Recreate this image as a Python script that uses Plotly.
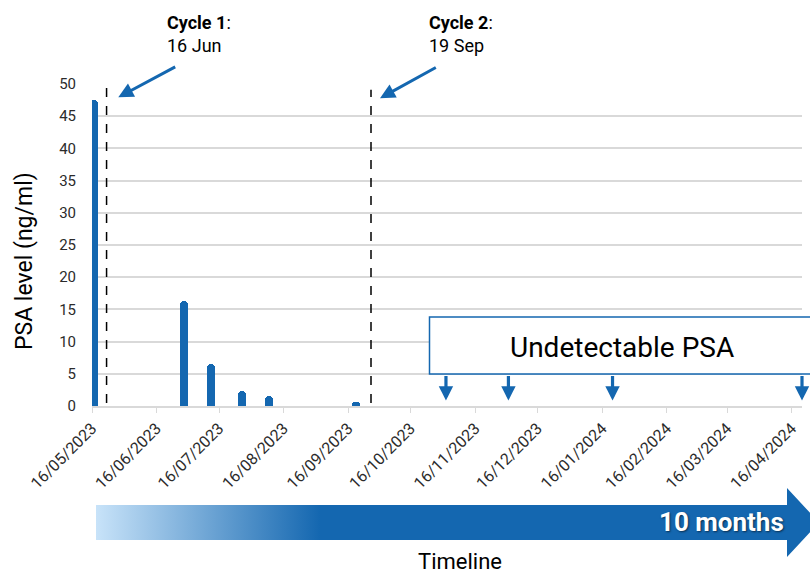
import plotly.graph_objects as go

W, H = 810, 575

# ---------------- data ----------------
psa_dates = ["2023-05-17", "2023-06-29", "2023-07-12", "2023-07-27", "2023-08-09", "2023-09-20"]
psa_values = [47.5, 16.3, 6.5, 2.3, 1.5, 0.6]

undetectable_dates = ["2023-11-02", "2023-12-02", "2024-01-21", "2024-04-21"]

cycle_line_dates = ["2023-05-23", "2023-09-27"]
cycle_names = ["Cycle 1", "Cycle 2"]
cycle_days = ["16 Jun", "19 Sep"]

month_ticks = ["2023-05-16", "2023-06-16", "2023-07-16", "2023-08-16", "2023-09-16",
               "2023-10-16", "2023-11-16", "2023-12-16", "2024-01-16", "2024-02-16",
               "2024-03-16", "2024-04-16"]
month_tick_labels = ["16/05/2023", "16/06/2023", "16/07/2023", "16/08/2023", "16/09/2023",
                     "16/10/2023", "16/11/2023", "16/12/2023", "16/01/2024", "16/02/2024",
                     "16/03/2024", "16/04/2024"]
y_ticks = [0, 5, 10, 15, 20, 25, 30, 35, 40, 45, 50]

BLUE = "#1467b0"
GRID = "#d9d9d9"
FONT = "Roboto"
TXT = "#2b2b2b"


def px_x(x):
    return x / W


def px_y(y):
    return 1 - y / H


fig = go.Figure()

fig.add_trace(go.Bar(
    x=psa_dates, y=psa_values,
    width=[3.9 * 86400000] * len(psa_dates),
    marker=dict(color=BLUE, cornerradius="50%", line=dict(width=0)),
    showlegend=False, hoverinfo="x+y",
))

# decorative timeline arrow (pixel frame on overlay axes)
arrow_x = [96, 787, 787, 819, 787, 787, 96, 96]
arrow_y = [505, 505, 488, 522.5, 557, 540, 540, 505]
fig.add_trace(go.Scatter(
    x=arrow_x, y=arrow_y, xaxis="x2", yaxis="y2",
    mode="lines", line=dict(width=0, color=BLUE), fill="toself",
    fillgradient=dict(type="horizontal",
                      colorscale=[[0, "#c8e3f9"], [0.31, BLUE], [1, BLUE]]),
    hoverinfo="skip", showlegend=False,
))

shapes = []
for d, ytop in zip(cycle_line_dates, [49.4, 49.1]):
    shapes.append(dict(type="line", xref="x", yref="y", x0=d, x1=d, y0=0.45, y1=ytop,
                       line=dict(color="black", width=1.5, dash="dash")))

# Undetectable PSA box
shapes.append(dict(type="rect", xref="paper", yref="paper",
                   x0=px_x(429.5), x1=px_x(830), y0=px_y(374), y1=px_y(317),
                   line=dict(color=BLUE, width=1.5), fillcolor="white", layer="above"))

annotations = []
# Cycle labels
for name, day, tx, tip, tail in zip(cycle_names, cycle_days, [165, 427],
                                    [(118.3, 97.3), (380, 98.3)],
                                    [(176.7, 66), (437.3, 66.7)]):
    annotations.append(dict(xref="paper", yref="paper", x=px_x(tx), y=px_y(34),
                            xanchor="left", yanchor="middle", align="left",
                            text=f"<b>{name}</b>:<br>{day}", showarrow=False,
                            font=dict(family=FONT, size=18, color="black")))
    annotations.append(dict(xref="paper", yref="paper", x=px_x(tip[0]), y=px_y(tip[1]),
                            ax=tail[0] - tip[0], ay=tail[1] - tip[1], text="",
                            showarrow=True, arrowhead=2, arrowsize=1, arrowwidth=3,
                            arrowcolor=BLUE))

annotations.append(dict(xref="paper", yref="paper", x=px_x(622), y=px_y(347),
                        text="Undetectable PSA", showarrow=False,
                        xanchor="center", yanchor="middle",
                        font=dict(family=FONT, size=28, color="black")))

for d in undetectable_dates:
    annotations.append(dict(xref="x", yref="y", x=d, y=0.85, ax=0, ay=-26, text="",
                            showarrow=True, arrowhead=2, arrowsize=0.9, arrowwidth=3.2,
                            arrowcolor=BLUE))

annotations.append(dict(xref="paper", yref="paper", x=px_x(24), y=px_y(261),
                        text="PSA level (ng/ml)", textangle=-90, showarrow=False,
                        xanchor="center", yanchor="middle",
                        font=dict(family=FONT, size=23, color="black")))

annotations.append(dict(xref="paper", yref="paper", x=px_x(786), y=px_y(522),
                        text="<b>10 months</b>", showarrow=False,
                        xanchor="right", yanchor="middle",
                        font=dict(family=FONT, size=26, color="white",
                                  shadow="1px 1px 2px rgba(0,0,0,0.55)")))

annotations.append(dict(xref="paper", yref="paper", x=px_x(460), y=0,
                        text="Timeline", showarrow=False, borderpad=0,
                        xanchor="center", yanchor="bottom",
                        font=dict(family=FONT, size=22, color="black")))

fig.update_layout(
    width=W, height=H, autosize=False,
    margin=dict(l=0, r=0, t=0, b=0, pad=0, autoexpand=False),
    paper_bgcolor="white", plot_bgcolor="rgba(0,0,0,0)",
    font=dict(family=FONT, color=TXT),
    bargap=0,
    xaxis=dict(
        type="date", domain=[px_x(92), px_x(802)], automargin=False,
        range=["2023-05-16", "2024-04-21"],
        tickmode="array", tickvals=month_ticks, ticktext=month_tick_labels,
        tickangle=-45, tickfont=dict(family=FONT, size=16, color=TXT),
        ticks="outside", ticklen=5, tickcolor=GRID, tickwidth=1,
        showline=True, linecolor=GRID, linewidth=1.5,
        showgrid=False, zeroline=False, fixedrange=True,
    ),
    yaxis=dict(
        domain=[px_y(406), px_y(84)], range=[0, 50], automargin=False,
        tickmode="array", tickvals=y_ticks,
        tickfont=dict(family=FONT, size=15, color=TXT),
        ticklabelstandoff=15,
        showgrid=True, gridcolor=GRID, gridwidth=1.5,
        zeroline=False, showline=False, ticks="", fixedrange=True,
    ),
    xaxis2=dict(domain=[0, 1], range=[0, W], visible=False, anchor="y2",
                fixedrange=True, automargin=False),
    yaxis2=dict(domain=[0, 1], range=[H, 0], visible=False, anchor="x2",
                fixedrange=True, automargin=False),
    shapes=shapes,
    annotations=annotations,
)

fig.write_html(
    "out.html",
    config={"displayModeBar": False},
    post_script="document.body.style.margin='0';document.body.style.overflow='hidden';",
)
